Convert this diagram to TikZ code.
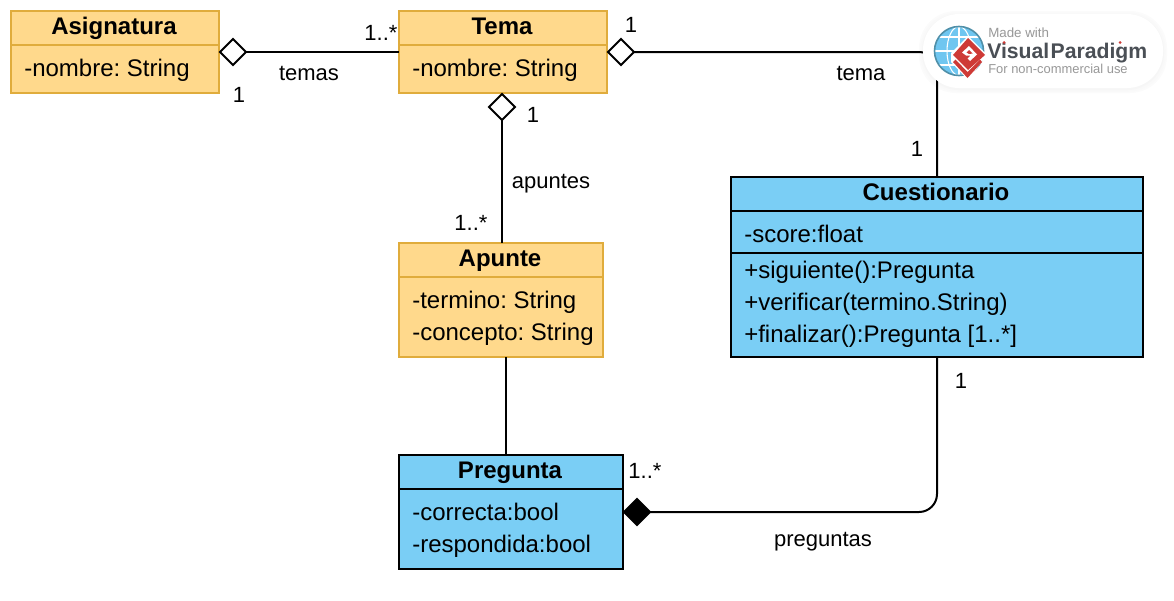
\documentclass[tikz,border=0pt]{standalone}
\usepackage{fontspec}
\setmainfont{Liberation Sans}
\frenchspacing
\usetikzlibrary{shapes.geometric,calc}
\definecolor{orangefill}{HTML}{FFD98C}
\definecolor{orangeline}{HTML}{E0AC3C}
\definecolor{bluefill}{HTML}{7ACEF5}
\definecolor{vpgray}{HTML}{989898}
\definecolor{vpdark}{HTML}{4A4F55}
\definecolor{vpred}{HTML}{CE3A36}
\definecolor{vpglobe}{HTML}{6FC6F0}
\definecolor{vpring}{HTML}{4F8FA8}
\tikzset{
 x=0.75pt,y=-0.75pt,
 orangebox/.style={draw=orangeline,fill=orangefill,line width=1.5pt,inner sep=0pt,outer sep=0pt},
 bluebox/.style={draw=black,fill=bluefill,line width=1.5pt,inner sep=0pt,outer sep=0pt},
 orangediv/.style={draw=orangeline,line width=1.5pt},
 bluediv/.style={draw=black,line width=1.5pt},
 conn/.style={draw=black,line width=1.5pt},
 title/.style={font=\fontsize{18}{18}\selectfont\bfseries,inner sep=0pt,anchor=base},
 member/.style={font=\fontsize{18}{18}\selectfont,inner sep=0pt,anchor=base west},
 lbl/.style={font=\fontsize{16.5}{16.5}\selectfont,inner sep=0pt,anchor=base},
 dia/.style={diamond,aspect=1,draw=black,line width=1.5pt,inner sep=0pt,outer sep=0pt,minimum size=26*0.75pt},
 adia/.style={dia,fill=white},
 cdia/.style={dia,fill=black},
}
\begin{document}
\begin{tikzpicture}
\useasboundingbox (0,0) rectangle (1174,600);
% badge shadow, under the connectors
\foreach \o/\c in {4/black!1.5,2.5/black!2.5,1/black!3.5}{
  \fill[\c,rounded corners=37*0.75pt] (923-\o,14-\o+1) rectangle (1163+\o,88+\o+1);}
% classes
\node[orangebox,minimum width=208*0.75pt,minimum height=82*0.75pt] (asig) at (115,52) {};
\node[orangebox,minimum width=208*0.75pt,minimum height=82*0.75pt] (tema) at (503,52) {};
\node[orangebox,minimum width=204*0.75pt,minimum height=114*0.75pt] (apunte) at (501,300) {};
\node[bluebox,minimum width=224*0.75pt,minimum height=114*0.75pt] (preg) at (511,512) {};
\node[bluebox,minimum width=412*0.75pt,minimum height=180*0.75pt] (cuest) at (937,267) {};
\coordinate (d1) at (0,45); \coordinate (d2) at (0,277); \coordinate (d3) at (0,489);
\coordinate (d4) at (0,211); \coordinate (d5) at (0,253);
\draw[orangediv] (asig.west |- d1) -- (asig.east |- d1);
\draw[orangediv] (tema.west |- d1) -- (tema.east |- d1);
\draw[orangediv] (apunte.west |- d2) -- (apunte.east |- d2);
\draw[bluediv] (preg.west |- d3) -- (preg.east |- d3);
\draw[bluediv] (cuest.west |- d4) -- (cuest.east |- d4);
\draw[bluediv] (cuest.west |- d5) -- (cuest.east |- d5);
% diamonds
\node[adia] (da) at (233,52) {};
\node[adia] (dt) at (621,52) {};
\node[adia] (dn) at (502,107) {};
\node[cdia] (dc) at (637,512) {};
% connectors
\coordinate (ta) at (399,52);
\coordinate (apt) at (502,243);
\coordinate (apb) at (506,357);
\coordinate (prt) at (506,455);
\draw[conn] (da.east) -- (ta);
\draw[conn] (dn.south) -- (apt);
\draw[conn] (apb) -- (prt);
\draw[conn,rounded corners=18*0.75pt] (dt.east) -- (cuest.north |- dt) -- (cuest.north);
\draw[conn,rounded corners=18*0.75pt] (dc.east) -- (cuest.south |- dc) -- (cuest.south);
% titles
\node[title] (tasig) at (114,34) {Asignatura};
\node[title] (ttema) at (502,34) {Tema};
\node[title] (tapun) at (500,266) {Apunte};
\node[title] (tpreg) at (510,478) {Pregunta};
\node[title] (tcues) at (936,200) {Cuestionario};
% members
\node[member] (m1) at (24,76) {-nombre: String};
\node[member] (m2) at (412,76) {-nombre: String};
\node[member] (m3) at (412,308) {-termino: String};
\node[member] (m4) at (412,340) {-concepto: String};
\node[member] (m5) at (412,520) {-correcta:bool};
\node[member] (m6) at (412,552) {-respondida:bool};
\node[member] (m7) at (744,242) {-score:float};
\node[member] (m8) at (744,278) {+siguiente():Pregunta};
\node[member] (m9) at (744,310) {+verificar(termino.String)};
\node[member] (m10) at (744,342) {+finalizar():Pregunta [1..*]};
% labels
\node[lbl] (l1) at (309,80) {temas};
\node[lbl] (l2) at (861,80) {tema};
\node[lbl] (l3) at (551,188) {apuntes};
\node[lbl] (l4) at (823,546) {preguntas};
\node[lbl] (l5) at (239,102) {1};
\node[lbl] (l6) at (381,40) {1..*};
\node[lbl] (l7) at (631,32) {1};
\node[lbl] (l8) at (533,122) {1};
\node[lbl] (l9) at (471,230) {1..*};
\node[lbl] (l10) at (917,156) {1};
\node[lbl] (l11) at (961,388) {1};
\node[lbl] (l12) at (645,478) {1..*};
% badge
\node[fill=white,rounded corners=36*0.75pt,minimum width=240*0.75pt,minimum height=74*0.75pt,inner sep=0pt] (badge) at (1043,51) {};
\fill[vpglobe] (959,51) circle[radius=24.5];
\begin{scope}
\clip (959,51) circle[radius=24.5];
\draw[white,line width=0.8pt] (959,26) -- (959,76) (934,51) -- (984,51) (934,37) -- (984,37) (934,65) -- (984,65);
\draw[white,line width=0.8pt] (959,51) ellipse[x radius=12,y radius=24.5];
\end{scope}
\draw[vpring,line width=1.2pt] (959,51) circle[radius=24.5];
% red mark
\fill[white] (968,36) -- (987,55) -- (968,80) -- (951,62) -- (951,53) -- cycle;
\fill[vpred] (953,62) -- (955.5,59.5) -- (967.5,72) -- (980,59.5) -- (982,62) -- (967.5,78) -- cycle;
\fill[vpred] (968,38) -- (985,55) -- (968,70) -- (953,55) -- cycle;
\fill[white] (969,46) -- (977,54.5) -- (970,61) -- (967.5,58.5) -- (970.5,55.5) -- (966,55.5) -- (962,52.5) -- cycle;
\fill[vpred] (969,50) -- (972.5,53.5) -- (969,54) -- (966.5,52.5) -- cycle;
\node[anchor=base west,inner sep=0pt,text=vpgray,font=\fontsize{10}{10}\selectfont] (v1) at (988,37) {Made with};
\node[anchor=base west,inner sep=0pt,text=vpdark,font=\fontsize{15.9}{15.9}\selectfont\bfseries] (v2) at (987,58) {Visual\kern1pt Paradigm};
\node[anchor=base west,inner sep=0pt,text=vpgray,font=\fontsize{9.7}{9.7}\selectfont] (v3) at (988,73) {For non-commercial use};
\fill[vpred] (1004,42.5) circle[radius=1.5];
\fill[vpred] (1120,42.5) circle[radius=1.5];
\end{tikzpicture}
\end{document}
